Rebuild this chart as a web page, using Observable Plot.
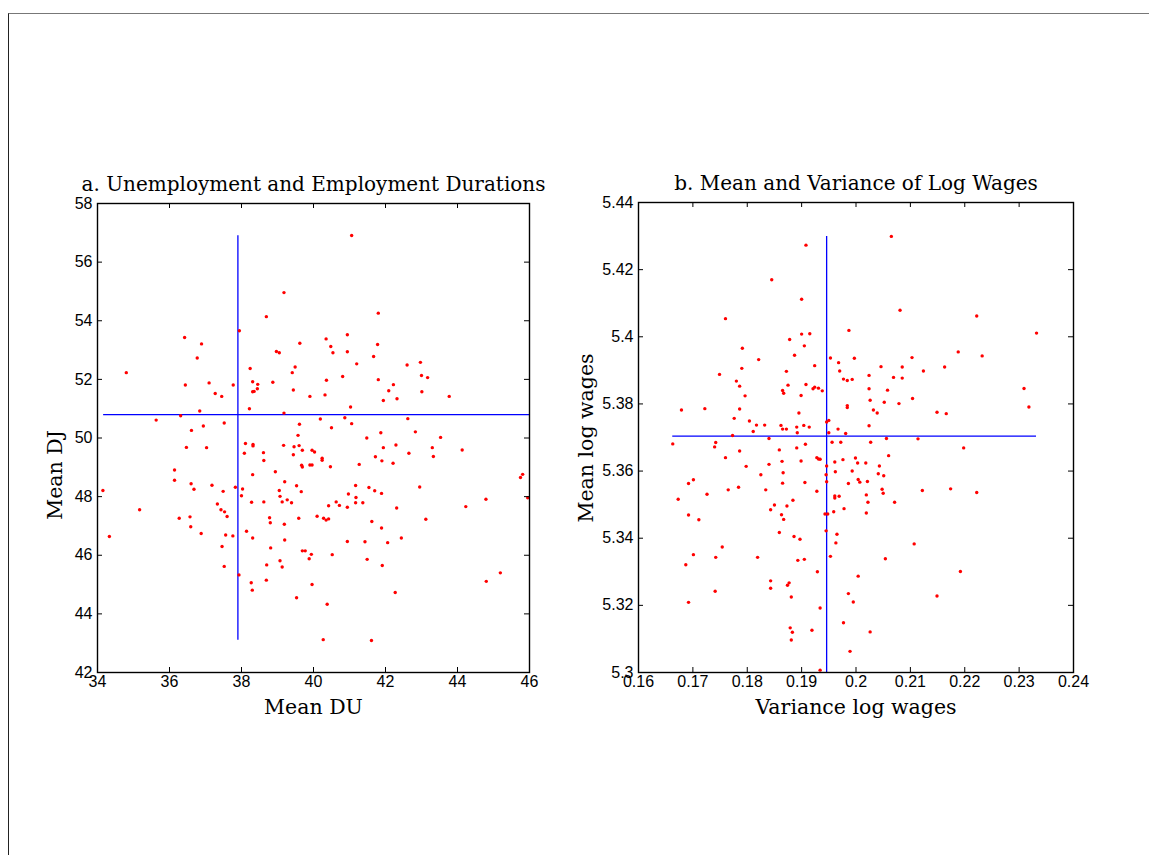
<!DOCTYPE html>
<html>
<head>
<meta charset="utf-8">
<script src="https://cdn.jsdelivr.net/npm/d3@7"></script>
<script src="https://cdn.jsdelivr.net/npm/@observablehq/plot@0.6"></script>
<style>
  html, body { margin: 0; padding: 0; background: #fff; }
  #page { position: relative; width: 1149px; height: 855px; overflow: hidden; background: #fff; }
  #border { position: absolute; left: 8px; top: 13px; width: 1160px; height: 860px;
            border-top: 1.5px solid #777; border-left: 1.5px solid #222; }
  .panel { position: absolute; }
  .panel svg { overflow: visible; }
</style>
</head>
<body>
<div id="page">
  <div id="border"></div>
  <div id="pa" class="panel"></div>
  <div id="pb" class="panel"></div>
</div>
<script>
// ---------- Panel a data: Mean DU (x), Mean DJ (y) ----------
const meanDU = [
34.80,39.18,38.69,37.94,36.42,36.89,39.62,36.77,38.97,39.05,38.24,39.49,39.41,36.44,37.10,37.77,37.27,37.45,38.31,38.45,
38.87,38.44,38.31,38.35,39.44,39.90,38.22,39.18,36.84,36.31,35.63,37.52,36.94,36.61,39.61,39.57,
41.06,41.80,40.35,40.94,40.48,40.54,40.94,41.78,41.67,41.20,42.60,42.97,43.00,43.17,40.81,40.36,41.80,42.22,42.09,43.01,
43.77,40.32,41.94,42.32,41.03,40.19,40.87,41.06,40.50,42.62,41.48,41.87,42.83,43.53,
34.15,34.33,35.17,36.14,36.14,36.27,36.47,37.03,36.60,36.68,36.57,36.59,36.88,37.18,37.49,37.33,37.43,37.53,37.60,37.56,
37.76,37.46,37.52,37.83,37.93,38.03,38.00,38.11,38.08,38.32,38.32,38.31,38.28,38.14,38.31,38.27,38.30,38.61,38.62,38.62,
38.78,38.80,38.94,38.81,38.70,38.69,39.05,39.07,39.13,39.27,39.39,39.20,39.17,39.46,39.60,39.69,39.44,39.53,39.66,39.59,
39.19,39.20,39.07,39.13,39.53,39.69,39.77,39.88,39.94,39.96,39.67,39.69,39.90,39.96,39.96,40.03,
40.24,40.24,40.47,40.38,40.27,40.10,40.28,40.35,40.42,40.52,40.42,40.63,40.72,40.94,40.97,41.17,41.18,41.17,41.37,40.94,
41.43,41.49,41.27,41.94,41.72,41.90,42.29,42.21,42.65,43.30,43.33,44.13,41.54,41.70,41.89,41.62,41.89,42.06,42.44,42.31,
42.95,43.12,41.91,42.27,41.61,44.23,44.79,44.80,45.19,45.75,45.81,45.95
];
const meanDJ = [
52.23,54.96,54.14,53.66,53.43,53.21,53.23,52.73,52.95,52.91,52.37,52.42,52.23,51.81,51.88,51.81,51.52,51.42,51.92,51.83,
51.90,51.68,51.58,51.59,51.64,51.42,51.00,50.85,50.92,50.76,50.61,50.51,50.41,50.26,50.47,50.09,
56.91,54.26,53.38,53.52,53.12,52.91,52.94,53.19,52.78,52.53,52.49,52.58,52.13,52.06,52.10,51.97,51.99,51.82,51.61,51.58,
51.42,51.47,51.28,51.34,51.06,50.65,50.69,50.49,50.35,50.66,50.00,50.18,50.21,50.02,
48.21,46.64,47.55,48.91,48.56,47.26,49.68,49.67,48.44,48.25,47.31,46.97,46.74,48.39,48.18,47.75,47.55,47.48,47.32,46.69,
46.66,46.30,45.62,48.32,45.33,48.26,48.03,49.81,49.48,49.78,49.73,48.75,47.81,46.82,46.59,45.06,44.81,49.50,49.23,47.82,
47.28,47.11,48.85,46.25,45.67,45.15,48.21,48.01,47.82,47.89,47.79,48.51,49.75,49.70,49.74,49.58,49.43,48.37,48.17,47.26,
47.06,46.52,45.81,45.60,44.55,46.15,46.15,45.88,46.03,45.00,49.07,49.01,49.08,49.08,49.58,49.52,
49.31,49.24,49.02,44.33,43.12,47.33,47.26,47.20,47.24,46.02,47.69,47.82,47.70,47.64,48.09,48.38,47.97,47.79,47.79,46.47,
46.46,45.86,49.10,49.67,49.36,49.22,49.76,49.14,49.48,49.67,49.37,49.59,48.31,48.20,48.11,47.15,46.93,46.43,46.59,47.61,
48.33,47.23,45.65,44.73,43.09,47.66,47.91,45.11,45.40,48.65,48.76,47.96
];
const meanLineA = [37.90, 50.80];          // vertical x, horizontal y
const spanLineA = [34.17, 46.00, 43.10, 56.90]; // x1, x2, y1, y2
const xTicksA = [34, 36, 38, 40, 42, 44, 46];
const yTicksA = [42, 44, 46, 48, 50, 52, 54, 56, 58];

// ---------- Panel b data: Variance log wages (x), Mean log wages (y) ----------
const varLogW = [
0.1908,0.1845,0.1900,0.1760,0.1987,0.1900,0.1915,0.1878,0.1791,0.1905,0.1887,0.1821,0.1953,0.1924,0.1968,0.1790,0.1872,0.1970,0.1977,0.1984,
0.1749,0.1780,0.1786,0.1875,0.1865,0.1867,0.1908,0.1921,0.1924,0.1931,0.1938,0.1796,0.1899,0.1679,0.1722,0.1786,0.1895,0.1984,0.1984,0.1776,
0.1804,0.1817,0.1832,0.1811,0.1773,0.1840,0.1862,0.1865,0.1872,0.1891,0.1892,0.1904,0.1914,0.1946,0.1950,0.1950,0.1967,0.1981,
0.2065,0.2081,0.2222,0.2332,0.2188,0.2232,0.1997,0.2103,0.2046,0.2085,0.2163,0.2124,0.2024,0.2069,0.2085,0.1993,0.2024,0.2058,0.2026,0.2104,
0.2052,0.2079,0.2032,0.2039,0.2149,0.2166,0.2309,0.2318,0.2024,0.2056,0.2114,
0.1663,0.1740,0.1742,0.1760,0.1786,0.1859,0.1864,0.1891,0.1907,0.1899,0.1798,0.1840,0.1928,0.1931,0.1934,0.1956,0.1972,0.1976,0.1961,0.1946,
0.1962,0.1945,0.1946,0.1866,0.1825,0.1692,0.1701,0.1765,0.1784,0.1834,0.1865,0.1906,0.1928,0.1986,0.1726,0.1673,0.1850,0.1884,0.1961,0.1961,
0.1969,0.1873,0.1843,0.1978,0.1959,0.1692,0.1943,0.1948,0.1863,0.1867,0.1711,0.1859,0.1886,0.1897,0.1945,0.1965,0.1963,0.1754,0.1701,0.1742,
0.1819,0.1687,0.1893,0.1905,0.1953,0.1929,0.1843,0.1843,0.1877,0.1874,0.1741,0.1881,0.1692,0.1934,0.1986,0.1977,0.1879,0.1883,0.1881,0.1919,
0.1989,0.1934,
0.2027,0.2198,0.1999,0.2003,0.2018,0.2060,0.2043,0.1993,0.2041,0.2051,0.2004,0.2007,0.2021,0.2048,0.2050,0.2019,0.2122,0.2174,0.2222,0.2022,
0.2071,0.2019,0.2107,0.2054,0.2192,0.2004,0.1995,0.2149,0.2026
];
const meanLogW = [
5.4273,5.4170,5.4112,5.4054,5.4019,5.4008,5.4009,5.3992,5.3966,5.3973,5.3945,5.3932,5.3937,5.3914,5.3923,5.3906,5.3897,5.3898,5.3874,5.3870,
5.3888,5.3868,5.3853,5.3856,5.3840,5.3832,5.3858,5.3845,5.3850,5.3847,5.3839,5.3824,5.3825,5.3782,5.3786,5.3785,5.3773,5.3795,5.3789,5.3757,
5.3749,5.3737,5.3737,5.3718,5.3706,5.3697,5.3736,5.3725,5.3725,5.3731,5.3714,5.3736,5.3731,5.3746,5.3751,5.3714,5.3725,5.3712,
5.4299,5.4079,5.4062,5.4011,5.3955,5.3943,5.3936,5.3938,5.3911,5.3910,5.3910,5.3898,5.3885,5.3879,5.3877,5.3873,5.3845,5.3841,5.3811,5.3816,
5.3805,5.3801,5.3782,5.3773,5.3775,5.3771,5.3846,5.3791,5.3735,5.3697,5.3696,
5.3681,5.3672,5.3685,5.3640,5.3660,5.3663,5.3629,5.3669,5.3680,5.3630,5.3614,5.3620,5.3640,5.3636,5.3635,5.3686,5.3686,5.3634,5.3627,5.3615,
5.3598,5.3589,5.3568,5.3595,5.3589,5.3563,5.3574,5.3544,5.3552,5.3544,5.3564,5.3566,5.3540,5.3563,5.3531,5.3516,5.3499,5.3513,5.3526,5.3520,
5.3525,5.3496,5.3485,5.3488,5.3479,5.3469,5.3472,5.3472,5.3470,5.3456,5.3455,5.3417,5.3405,5.3397,5.3422,5.3412,5.3386,5.3374,5.3351,5.3343,
5.3343,5.3321,5.3334,5.3337,5.3346,5.3300,5.3273,5.3251,5.3267,5.3260,5.3242,5.3225,5.3209,5.3192,5.3235,5.3148,5.3133,5.3120,5.3097,5.3126,
5.3063,5.3007,
5.3686,5.3669,5.3639,5.3624,5.3624,5.3646,5.3615,5.3600,5.3592,5.3586,5.3575,5.3567,5.3569,5.3546,5.3534,5.3529,5.3542,5.3547,5.3536,5.3507,
5.3507,5.3475,5.3383,5.3339,5.3301,5.3287,5.3210,5.3228,5.3121
];
const meanLineB = [0.1946, 5.3704];
const spanLineB = [0.1663, 0.2332, 5.3000, 5.4299];
const xTicksB = [0.16, 0.17, 0.18, 0.19, 0.20, 0.21, 0.22, 0.23, 0.24];
const yTicksB = [5.30, 5.32, 5.34, 5.36, 5.38, 5.40, 5.42, 5.44];

const titles = ["a. Unemployment and Employment Durations", "b. Mean and Variance of Log Wages"];
const xLabels = ["Mean DU", "Variance log wages"];
const yLabels = ["Mean DJ", "Mean log wages"];

const SERIF = "DejaVu Serif";
const SANS = "Liberation Sans";
const fmt = d => String(+(+d).toFixed(4));

function panel(opts) {
  const {el, left, top, fw, fh, xs, ys, xDomain, yDomain, xTicks, yTicks, line, span,
         title, xLabel, yLabel, yLabelX, yLabelCy} = opts;
  const ML = 80, MR = 20, MT = 50, MB = 55;
  const data = xs.map((x, i) => ({x, y: ys[i]}));
  const tk = 5;
  const chart = Plot.plot({
    width: ML + fw + MR,
    height: MT + fh + MB,
    marginLeft: ML, marginRight: MR, marginTop: MT, marginBottom: MB,
    style: {fontFamily: SANS, fontSize: "16px", background: "transparent", color: "#000", overflow: "visible"},
    x: {domain: xDomain},
    y: {domain: yDomain},
    marks: [
      Plot.ruleX([line[0]], {y1: span[2], y2: span[3], stroke: "#0000ff", strokeWidth: 1.3}),
      Plot.ruleY([line[1]], {x1: span[0], x2: span[1], stroke: "#0000ff", strokeWidth: 1.3}),
      Plot.dot(data, {x: "x", y: "y", r: 1.7, fill: "#ff0000", stroke: null}),
      Plot.ruleX(xTicks, {insetTop: fh - tk, stroke: "#000", strokeWidth: 1}),
      Plot.ruleX(xTicks, {insetBottom: fh - tk, stroke: "#000", strokeWidth: 1}),
      Plot.ruleY(yTicks, {insetRight: fw - tk, stroke: "#000", strokeWidth: 1}),
      Plot.ruleY(yTicks, {insetLeft: fw - tk, stroke: "#000", strokeWidth: 1}),
      Plot.frame({stroke: "#000", strokeWidth: 1.4}),
      Plot.axisX(xTicks, {tickSize: 0, tickPadding: 3, tickFormat: fmt, fontSize: 16, fill: "#000", label: null}),
      Plot.axisY(yTicks, {tickSize: 0, tickPadding: 5, tickFormat: fmt, fontSize: 16, fill: "#000", label: null}),
      Plot.text([title], {text: d => d, frameAnchor: "top", lineAnchor: "bottom", dy: -13,
                          fontFamily: SERIF, fontSize: 20, fill: "#000"}),
      Plot.text([xLabel], {text: d => d, frameAnchor: "bottom", lineAnchor: "bottom", dy: 41,
                           fontFamily: SERIF, fontSize: 20.5, fill: "#000"})
    ]
  });
  // rotated y-axis label, placed in page pixels (baseline x, centre y)
  d3.select(chart).append("text")
    .attr("transform", `translate(${yLabelX - (left - ML)},${yLabelCy - (top - MT)}) rotate(-90)`)
    .attr("text-anchor", "middle")
    .attr("font-family", SERIF)
    .attr("font-size", 20.5)
    .attr("fill", "#000")
    .text(yLabel);
  const host = document.getElementById(el);
  host.style.left = (left - ML) + "px";
  host.style.top = (top - MT) + "px";
  host.appendChild(chart);
}

panel({el: "pa", left: 97, top: 203, fw: 432, fh: 469, xs: meanDU, ys: meanDJ,
       xDomain: [34, 46], yDomain: [42, 58], xTicks: xTicksA, yTicks: yTicksA,
       line: meanLineA, span: spanLineA, title: titles[0], xLabel: xLabels[0], yLabel: yLabels[0],
       yLabelX: 62, yLabelCy: 475});
panel({el: "pb", left: 638, top: 202, fw: 435, fh: 470, xs: varLogW, ys: meanLogW,
       xDomain: [0.16, 0.24], yDomain: [5.30, 5.44], xTicks: xTicksB, yTicks: yTicksB,
       line: meanLineB, span: spanLineB, title: titles[1], xLabel: xLabels[1], yLabel: yLabels[1],
       yLabelX: 593, yLabelCy: 438});
</script>
</body>
</html>
